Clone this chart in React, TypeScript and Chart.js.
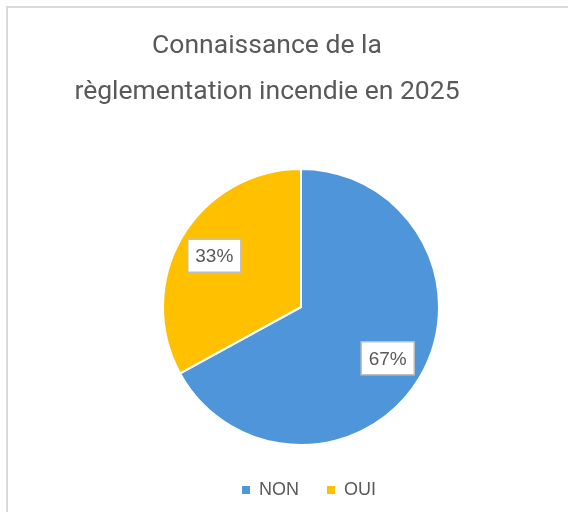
import React, { useEffect, useRef } from 'react';
import { Chart, registerables } from 'chart.js';

Chart.register(...registerables);

const TITLE_LINES = ['Connaissance de la', 'règlementation incendie en 2025'];
const CATEGORIES = ['NON', 'OUI'];
const VALUES = [67, 33];
const COLORS = ['#4E95D9', '#FFC000'];

export default function App() {
  const ref = useRef<HTMLCanvasElement>(null);

  useEffect(() => {
    const canvas = ref.current!;

    const frame = {
      id: 'frame',
      beforeDraw(chart: any) {
        const ctx = chart.ctx;
        ctx.save();
        ctx.fillStyle = '#ffffff';
        ctx.fillRect(0, 0, chart.width, chart.height);
        ctx.strokeStyle = '#d9d9d9';
        ctx.lineWidth = 2;
        ctx.strokeRect(7, 7, chart.width + 40, chart.height + 40);
        ctx.restore();
      },
    };

    const shift = {
      id: 'shift',
      afterLayout(chart: any) {
        const t = chart.titleBlock;
        if (t) { t.left -= 34; t.right -= 34; }
        const l = chart.legend;
        if (l) { l.left += 8; l.right += 8; }
      },
    };

    const pctLabels = {
      id: 'pctLabels',
      afterDatasetsDraw(chart: any) {
        const ctx = chart.ctx;
        const meta = chart.getDatasetMeta(0);
        const data = chart.data.datasets[0].data as number[];
        const total = data.reduce((a, b) => a + b, 0);
        ctx.save();
        ctx.font = '19px "Liberation Sans", Arial, sans-serif';
        ctx.textAlign = 'center';
        ctx.textBaseline = 'middle';
        meta.data.forEach((arc: any, i: number) => {
          const p = arc.getProps(['x', 'y', 'startAngle', 'endAngle', 'outerRadius'], true);
          const mid = (p.startAngle + p.endAngle) / 2;
          const r = p.outerRadius * 0.73;
          const cx = p.x + Math.cos(mid) * r;
          const cy = p.y + Math.sin(mid) * r;
          const text = Math.round((data[i] / total) * 100) + '%';
          const w = ctx.measureText(text).width + 15;
          const h = 33;
          ctx.fillStyle = '#ffffff';
          ctx.fillRect(cx - w / 2, cy - h / 2, w, h);
          ctx.strokeStyle = '#bfbfbf';
          ctx.lineWidth = 1.5;
          ctx.strokeRect(cx - w / 2, cy - h / 2, w, h);
          ctx.fillStyle = '#595959';
          ctx.fillText(text, cx, cy + 1);
        });
        ctx.restore();
      },
    };

    const chart = new Chart(canvas, {
      type: 'pie',
      data: {
        labels: CATEGORIES,
        datasets: [
          {
            data: VALUES,
            backgroundColor: COLORS,
            borderColor: '#ffffff',
            borderWidth: 2,
            radius: 138,
          } as any,
        ],
      },
      options: {
        responsive: false,
        animation: false,
        devicePixelRatio: 1,
        radius: 138,
        layout: { padding: { left: 34, right: 0, top: 0, bottom: 3 } },
        plugins: {
          title: {
            display: true,
            text: TITLE_LINES,
            color: '#595959',
            font: { family: 'Roboto', size: 26.5, weight: 'normal', lineHeight: 46 / 26.5 },
            padding: { top: 23, bottom: 46 },
          },
          legend: {
            display: true,
            position: 'bottom',
            labels: {
              boxWidth: 8,
              boxHeight: 8,
              padding: 28,
              color: '#595959',
              font: { family: '"Liberation Sans", Arial, sans-serif', size: 18 },
              generateLabels: (c: any) =>
                (Chart as any).overrides.doughnut.plugins.legend.labels
                  .generateLabels(c)
                  .map((l: any) => ({ ...l, lineWidth: 0, strokeStyle: 'rgba(0,0,0,0)' })),
            },
          },
          tooltip: { enabled: false },
        },
      } as any,
      plugins: [frame, shift, pctLabels],
    });

    return () => chart.destroy();
  }, []);

  return (
    <div style={{ position: 'fixed', left: 0, top: 0, width: 568, height: 512 }}>
      <canvas ref={ref} width={568} height={512} style={{ display: 'block' }} />
    </div>
  );
}
